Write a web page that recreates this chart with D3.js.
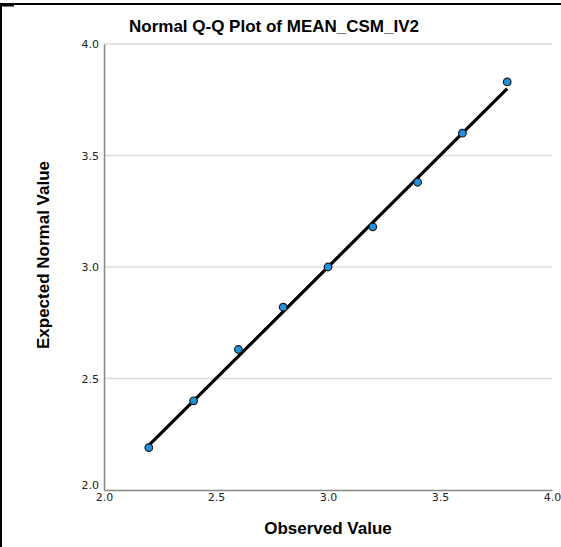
<!DOCTYPE html>
<html>
<head>
<meta charset="utf-8">
<script src="https://d3js.org/d3.v7.min.js"></script>
<style>
  body { margin: 0; background: #fff; }
  svg { display: block; }
  .tick text { font-family: "DejaVu Sans", sans-serif; font-size: 11px; fill: #222; }
</style>
</head>
<body>
<svg id="chart" width="561" height="547"></svg>
<script>
// observed quantiles vs expected normal values
var observed = [2.2, 2.4, 2.6, 2.8, 3.0, 3.2, 3.4, 3.6, 3.8];
var expected = [2.19, 2.40, 2.63, 2.82, 3.00, 3.18, 3.38, 3.60, 3.83];
var refLine = [2.2, 3.8];
var tickVals = [2.0, 2.5, 3.0, 3.5, 4.0];

var svg = d3.select("#chart");
var W = 561, H = 547;

// outer frame like the screenshot crop
svg.append("line").attr("x1", 0).attr("x2", W).attr("y1", 4).attr("y2", 4)
  .attr("stroke", "#000").attr("stroke-width", 2);
svg.append("line").attr("x1", 1).attr("x2", 1).attr("y1", 3).attr("y2", H)
  .attr("stroke", "#000").attr("stroke-width", 2);
svg.append("line").attr("x1", 0).attr("x2", 14).attr("y1", 5.5).attr("y2", 5.5)
  .attr("stroke", "#000").attr("stroke-width", 2);

var x = d3.scaleLinear().domain([2, 4]).range([104, 552]);
var y = d3.scaleLinear().domain([2, 4]).range([490, 44]);

// horizontal gridlines
svg.append("g").selectAll("line")
  .data(tickVals.slice(1))
  .join("line")
  .attr("x1", x(2)).attr("x2", x(4))
  .attr("y1", d => y(d)).attr("y2", d => y(d))
  .attr("stroke", "#dcdcdc").attr("stroke-width", 1.5);

// axes
var xAxis = svg.append("g")
  .attr("transform", "translate(0," + y(2) + ")")
  .call(d3.axisBottom(x).tickValues(tickVals).tickFormat(d3.format(".1f")).tickSize(0).tickPadding(3));
var yAxis = svg.append("g")
  .attr("transform", "translate(" + x(2) + ",0)")
  .call(d3.axisLeft(y).tickValues(tickVals).tickFormat(d3.format(".1f")).tickSize(0).tickPadding(5));
[xAxis, yAxis].forEach(a => a.select(".domain").attr("stroke", "#888").attr("stroke-width", 1.5));
// keep the two corner "2.0" labels from colliding
yAxis.selectAll(".tick text").filter(d => d === 2).attr("dy", "-0.1em");

// reference line
svg.append("line")
  .attr("x1", x(refLine[0])).attr("y1", y(refLine[0]))
  .attr("x2", x(refLine[1])).attr("y2", y(refLine[1]))
  .attr("stroke", "#000").attr("stroke-width", 3.2);

// points
svg.append("g").selectAll("circle")
  .data(observed)
  .join("circle")
  .attr("cx", d => x(d))
  .attr("cy", (d, i) => y(expected[i]))
  .attr("r", 3.8)
  .attr("fill", "#1f93e0")
  .attr("stroke", "#1a1a1a")
  .attr("stroke-width", 1.2);

// titles
svg.append("text")
  .attr("x", 274).attr("y", 32)
  .attr("text-anchor", "middle")
  .style("font-family", "'Liberation Sans', Arial, sans-serif")
  .style("font-weight", "bold").style("font-size", "17px")
  .text("Normal Q-Q Plot of MEAN_CSM_IV2");

svg.append("text")
  .attr("x", 328).attr("y", 534)
  .attr("text-anchor", "middle")
  .style("font-family", "'Liberation Sans', Arial, sans-serif")
  .style("font-weight", "bold").style("font-size", "17px")
  .text("Observed Value");

svg.append("text")
  .attr("transform", "translate(49,255) rotate(-90)")
  .attr("text-anchor", "middle")
  .style("font-family", "'Liberation Sans', Arial, sans-serif")
  .style("font-weight", "bold").style("font-size", "17px")
  .text("Expected Normal Value");
</script>
</body>
</html>
